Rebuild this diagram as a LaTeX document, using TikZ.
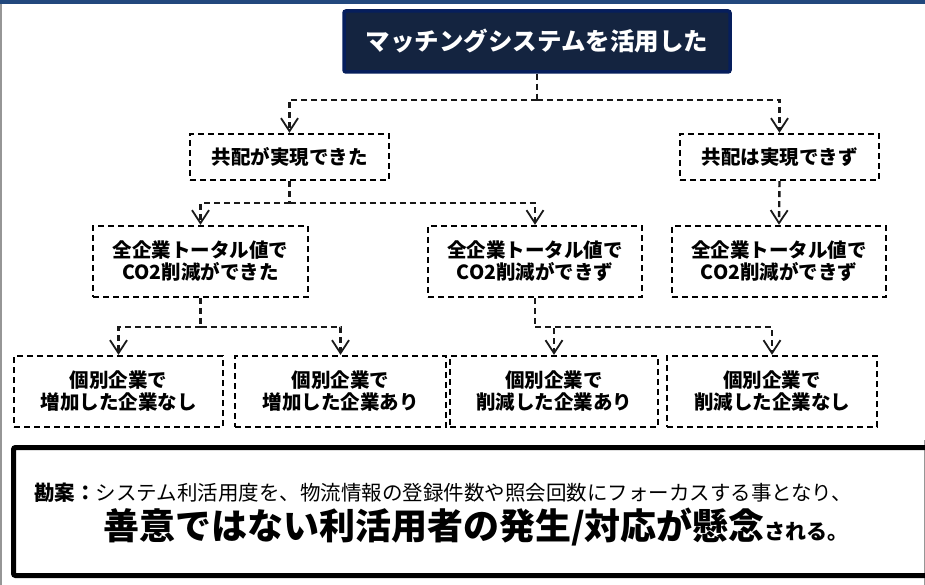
\documentclass[tikz,border=0pt]{standalone}
\usepackage{fontspec}
\setmainfont{Noto Sans CJK JP}
\usetikzlibrary{arrows.meta}
\definecolor{bandblue}{RGB}{34,72,125}
\definecolor{topfill}{RGB}{20,36,64}
\definecolor{topedge}{RGB}{6,30,92}
\definecolor{edgegray}{RGB}{150,150,150}
\tikzset{
  dbox/.style={draw=black, line width=2.4pt, dash pattern=on 6pt off 4pt, fill=white,
    inner sep=0pt, align=center, font=\fontsize{19.5}{22}\selectfont\bfseries},
  conn/.style={draw=black!90, line width=2.4pt, dash pattern=on 6pt off 4pt,
    -{Straight Barb[length=13pt,width=17pt,line width=1.8pt]}},
  link/.style={draw=black!90, line width=2.4pt, dash pattern=on 6pt off 4pt},
  topbox/.style={draw=topedge, line width=3.5pt, fill=topfill, rounded corners=2pt,
    text=white, inner sep=0pt, font=\fontsize{24.5}{28}\selectfont\bfseries}
}
\begin{document}
\begin{tikzpicture}[x=1pt,y=-1pt]
\useasboundingbox (0,0) rectangle (925,585);
\fill[white] (0,0) rectangle (925,585);
\fill[bandblue] (0,0) rectangle (925,4.5);
\draw[edgegray, line width=1.5pt] (0.75,4.5) -- (0.75,585);
\draw[edgegray, line width=1.5pt] (924.25,440) -- (924.25,585);

% top node
\node[topbox, minimum width=386pt, minimum height=61pt] (top) at (537,41.5) {マッチングシステムを活用した};

% level 1
\node[dbox, minimum width=199pt, minimum height=46pt] (l1a) at (289.5,157) {共配が実現できた};
\node[dbox, minimum width=199pt, minimum height=46pt] (l1b) at (779.5,157) {共配は実現できず};

% level 2
\node[dbox, minimum width=215pt, minimum height=71pt] (l2a) at (200.5,261.5) {全企業トータル値で\\CO2削減ができた};
\node[dbox, minimum width=214pt, minimum height=71pt] (l2b) at (535,261.5) {全企業トータル値で\\CO2削減ができず};
\node[dbox, minimum width=214pt, minimum height=71pt] (l2c) at (779,261.5) {全企業トータル値で\\CO2削減ができず};

% level 3
\node[dbox, minimum width=209pt, minimum height=71pt] (d) at (118.5,391.5) {個別企業で\\増加した企業なし};
\node[dbox, minimum width=211pt, minimum height=71pt] (e) at (340.5,391.5) {個別企業で\\増加した企業あり};
\node[dbox, minimum width=208pt, minimum height=71pt] (f) at (554,391.5) {個別企業で\\削減した企業あり};
\node[dbox, minimum width=210pt, minimum height=71pt] (g) at (772,391.5) {個別企業で\\削減した企業なし};

% junctions
\coordinate (j1) at (537,100);
\coordinate (j2) at (289.5,203);
\coordinate (j3) at (200.5,327);
\coordinate (j4) at (535,327);

% connectors
\draw[link] (top.south) -- (j1);
\draw[conn] (j1) -| (l1a.north);
\draw[conn] (j1) -| (l1b.north);
\draw[link] (l1a.south) -- (j2);
\draw[conn] (j2) -| (l2a.north);
\draw[conn] (j2) -| (l2b.north);
\draw[conn] (l1b.south) -- (l2c.north);
\draw[link] (l2a.south) -- (j3);
\draw[conn] (j3) -| (d.north);
\draw[conn] (j3) -| (e.north);
\draw[link] (l2b.south) -- (j4);
\draw[conn] (j4) -| (f.north);
\draw[conn] (j4) -| (g.north);

% bottom box
\begin{scope}
\clip (0,0) rectangle (925,585);
\node[draw=black, line width=5pt, rounded corners=2pt, minimum width=926.5pt, minimum height=128pt, inner sep=0pt] (note) at (476.75,511.5) {};
\end{scope}
\node[anchor=west, inner sep=0pt, font=\fontsize{20.5}{24}\selectfont] (l1) at (34,493)
  {\textbf{勘案：}システム利活用度を、物流情報の登録件数や照会回数にフォーカスする事となり、};
\node[anchor=center, inner sep=0pt] (l2) at (476,527)
  {{\fontsize{36}{40}\selectfont\bfseries 善意ではない利活用者の発生/対応が懸念}{\fontsize{21}{24}\selectfont\bfseries される。}};
\end{tikzpicture}
\end{document}
